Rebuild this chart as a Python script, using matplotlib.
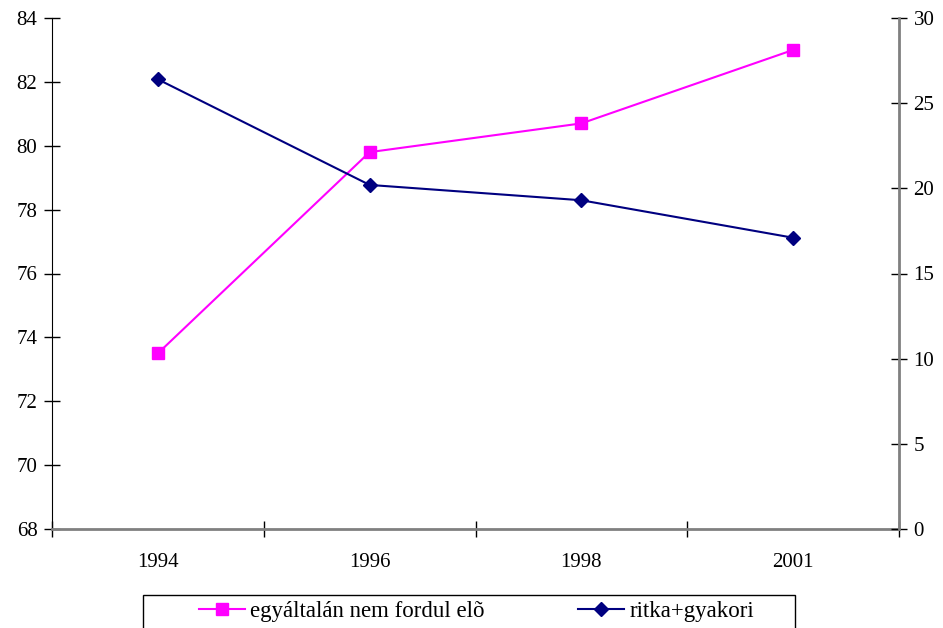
import numpy as np
import matplotlib
matplotlib.use("Agg")
import matplotlib.pyplot as plt
import matplotlib.patches as mpatches
from matplotlib.ticker import FixedLocator, NullFormatter

# Adatok (leolvasva az ábráról)
years = ["1994", "1996", "1998", "2001"]
never = [73.5, 79.8, 80.7, 83.0]        # bal tengely
rare_freq = [26.4, 20.2, 19.3, 17.1]    # jobb tengely

PINK = "#FF00FF"
NAVY = "#000080"
GREY = "#808080"

plt.rcParams.update({
    "font.family": ["Liberation Serif", "DejaVu Serif"],
    "font.size": 15,
})

W, H = 943, 628
fig = plt.figure(figsize=(W / 100, H / 100), dpi=100)
ax = fig.add_axes([52 / W, 1 - 529 / H, (899 - 52) / W, (529 - 18) / H])
ax2 = ax.twinx()

x = np.arange(len(years))
l1, = ax.plot(x, never, color=PINK, lw=1.5, marker="s", ms=8,
              label="egyáltalán nem fordul elõ")
l2, = ax2.plot(x, rare_freq, color=NAVY, lw=1.5, marker="D", ms=7,
               label="ritka+gyakori")

ax.set_xlim(-0.5, len(years) - 0.5)
ax.set_ylim(68, 84)
ax.set_yticks(np.arange(68, 85, 2))
ax2.set_ylim(0, 30)
ax2.set_yticks(np.arange(0, 31, 5))

# kategória határok: fő osztások, feliratok a kategóriák közepén
ax.xaxis.set_major_locator(FixedLocator(np.arange(-0.5, len(years), 1.0)))
ax.xaxis.set_major_formatter(NullFormatter())
ax.xaxis.set_minor_locator(FixedLocator(x))
ax.set_xticklabels(years, minor=True)
ax.tick_params(axis="x", which="minor", length=0, pad=17)
ax.tick_params(axis="x", which="major", direction="inout", length=11, width=1, color="black")
ax.tick_params(axis="y", direction="inout", length=11, width=1, pad=5)
ax2.tick_params(axis="y", direction="inout", length=11, width=1, pad=5)

for a in (ax, ax2):
    a.spines["top"].set_visible(False)
ax.spines["left"].set_color("black")
ax.spines["bottom"].set_color(GREY)
ax.spines["bottom"].set_linewidth(2)
ax.spines["right"].set_visible(False)
ax2.spines["left"].set_visible(False)
ax2.spines["bottom"].set_visible(False)
ax2.spines["right"].set_color(GREY)
ax2.spines["right"].set_linewidth(2)

# jelmagyarázat keret (az alsó széle kilóg a képből)
frame = mpatches.Rectangle((143 / W, -0.05), (795 - 143) / W, 0.05 + (1 - 595 / H),
                           transform=fig.transFigure, facecolor="white",
                           edgecolor="black", lw=1)
fig.add_artist(frame)

leg = fig.legend(handles=[l1, l2], loc="upper left", ncol=2,
                 bbox_to_anchor=(199 / W, 1 - 601 / H),
                 frameon=False, handlelength=2.0, handletextpad=0.22,
                 columnspacing=4.1, borderpad=0, fontsize=16.5, borderaxespad=0)

fig.savefig("out.png", dpi=100)
